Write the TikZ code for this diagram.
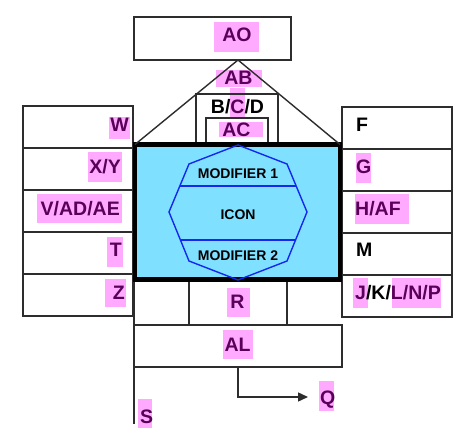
\documentclass[tikz,border=0pt]{standalone}
\usepackage{fontspec}
\setmainfont{Liberation Sans}
\usetikzlibrary{arrows.meta}
\definecolor{hlpink}{RGB}{255,170,255}
\definecolor{hltext}{RGB}{90,0,90}
\definecolor{iconblue}{RGB}{128,224,255}
\definecolor{octblue}{RGB}{20,40,240}
\definecolor{edgegray}{RGB}{45,45,45}
\begin{document}
\begin{tikzpicture}[x=1pt,y=-1pt,
  hl/.style={fill=hlpink, inner sep=0pt, outer sep=0pt},
  cell/.style={draw=edgegray, line width=1.4pt, inner sep=0pt, outer sep=0pt},
  edgeline/.style={draw=edgegray, line width=1.4pt},
  lbl/.style={font=\fontsize{19.5}{22}\selectfont\bfseries, inner sep=0pt, text=hltext},
  plainlbl/.style={lbl, text=black},
  modlbl/.style={font=\fontsize{14}{16}\selectfont\bfseries, inner sep=0pt, text=black}]
\useasboundingbox[fill=white] (0,0) rectangle (469,433);

% highlights
\node[hl, minimum width=45pt, minimum height=30pt] (hAO) at (236.5,37) {};
\node[hl, minimum width=46pt, minimum height=17pt] (hAB) at (239,78.5) {};
\node[hl, minimum width=15pt, minimum height=30pt] (hC) at (237.5,103) {};
\node[hl, minimum width=44pt, minimum height=15pt] (hAC) at (241,129.5) {};
\node[hl, minimum width=21pt, minimum height=22pt] (hW) at (119.5,128) {};
\node[hl, minimum width=34pt, minimum height=30pt] (hXY) at (105,167) {};
\node[hl, minimum width=85pt, minimum height=29pt] (hV) at (79.5,208.5) {};
\node[hl, minimum width=16pt, minimum height=30pt] (hT) at (115,252) {};
\node[hl, minimum width=21pt, minimum height=28pt] (hZ) at (115.5,293) {};
\node[hl, minimum width=15pt, minimum height=30pt] (hG) at (363.5,168) {};
\node[hl, minimum width=54pt, minimum height=30pt] (hH) at (382,209) {};
\node[hl, minimum width=15pt, minimum height=30pt] (hJ) at (360.5,293) {};
\node[hl, minimum width=49pt, minimum height=30pt] (hL) at (416.5,293) {};
\node[hl, minimum width=23pt, minimum height=29pt] (hR) at (238.5,302.5) {};
\node[hl, minimum width=30pt, minimum height=29pt] (hAL) at (238,344.5) {};
\node[hl, minimum width=15pt, minimum height=30pt] (hQ) at (326.5,396) {};
\node[hl, minimum width=14pt, minimum height=29pt] (hS) at (145,413.5) {};

% top box and roof
\node[cell, minimum width=157pt, minimum height=43pt] (ao) at (212.5,38.5) {};
\coordinate (apex) at (238,60);
\node[cell, minimum width=82pt, minimum height=51pt] (bcd) at (237,119.5) {};
\node[cell, minimum width=62pt, minimum height=27pt] (ac) at (237,131.5) {};

% left column
\node[cell, minimum width=110pt, minimum height=42pt] (lw) at (78,127) {};
\node[cell, minimum width=110pt, minimum height=42pt] (lxy) at (78,169) {};
\node[cell, minimum width=110pt, minimum height=42pt] (lv) at (78,211) {};
\node[cell, minimum width=110pt, minimum height=42pt] (lt) at (78,253) {};
\node[cell, minimum width=110pt, minimum height=42pt] (lz) at (78,295) {};

% right column
\node[cell, minimum width=110pt, minimum height=42pt] (rf) at (397,128) {};
\node[cell, minimum width=110pt, minimum height=42pt] (rg) at (397,170) {};
\node[cell, minimum width=110pt, minimum height=42pt] (rh) at (397,212) {};
\node[cell, minimum width=110pt, minimum height=42pt] (rm) at (397,254) {};
\node[cell, minimum width=110pt, minimum height=42pt] (rj) at (397,296) {};

% bottom row and AL box
\draw[edgeline] (189,280) -- (189,325);
\draw[edgeline] (287,280) -- (287,325);
\node[cell, minimum width=208pt, minimum height=42pt] (al) at (238,346) {};
\coordinate (stop) at (134,280);
\coordinate (send) at (134,424);
\draw[edgeline] (stop) -- (send);
\coordinate (qend) at (308,397);
\draw[edgeline, -{Triangle[length=10pt,width=9pt]}] (al.south) |- (qend);

% main icon frame
\node[draw=black, fill=iconblue, line width=4.5pt, inner sep=0pt, outer sep=0pt,
      minimum width=205pt, minimum height=135pt] (icon) at (237.5,212) {};
\draw[edgeline] (icon.north west) -- (apex) -- (icon.north east);

% octagon
\draw[octblue, line width=1.4pt, line join=miter]
  (238,145) -- (287,164) -- (307,212) -- (287,261) -- (238,280) -- (189,261) -- (169,212) -- (189,164) -- cycle;
\draw[octblue, line width=1.4pt] (179.8,186) -- (296.2,186);
\draw[octblue, line width=1.4pt] (180.4,240) -- (295.6,240);
\node[modlbl, anchor=base] (m1) at (238,179) {MODIFIER 1};
\node[modlbl, anchor=base] (icn) at (238,219) {ICON};
\node[modlbl, anchor=base] (m2) at (238,261) {MODIFIER 2};

% labels
\node[lbl, anchor=base] (tAO) at (237,42) {AO};
\node[lbl, anchor=base] (tAB) at (238.5,85) {AB};
\node[plainlbl, anchor=base] (tBCD) at (237.5,114) {B/\textcolor{hltext}{C}/D};
\node[lbl, anchor=base] (tAC) at (236.5,137) {AC};
\node[lbl, anchor=base east] (tW) at (129,132) {W};
\node[lbl, anchor=base east] (tXY) at (121,174) {X/Y};
\node[lbl, anchor=base east] (tV) at (120,215) {V/AD/AE};
\node[lbl, anchor=base east] (tT) at (122,257) {T};
\node[lbl, anchor=base east] (tZ) at (125,299) {Z};
\node[plainlbl, anchor=base west] (tF) at (356,132) {F};
\node[lbl, anchor=base west] (tG) at (356,174) {G};
\node[lbl, anchor=base west] (tH) at (355,215) {H/AF};
\node[plainlbl, anchor=base west] (tM) at (356,257) {M};
\node[plainlbl, anchor=base west] (tJ) at (355,299) {\textcolor{hltext}{J}/K/\textcolor{hltext}{L/N/P}};
\node[lbl, anchor=base] (tR) at (237.5,308) {R};
\node[lbl, anchor=base] (tAL) at (237.5,351) {AL};
\node[lbl, anchor=base west] (tQ) at (320,404) {Q};
\node[lbl, anchor=base west] (tS) at (140,423) {S};
\end{tikzpicture}
\end{document}
